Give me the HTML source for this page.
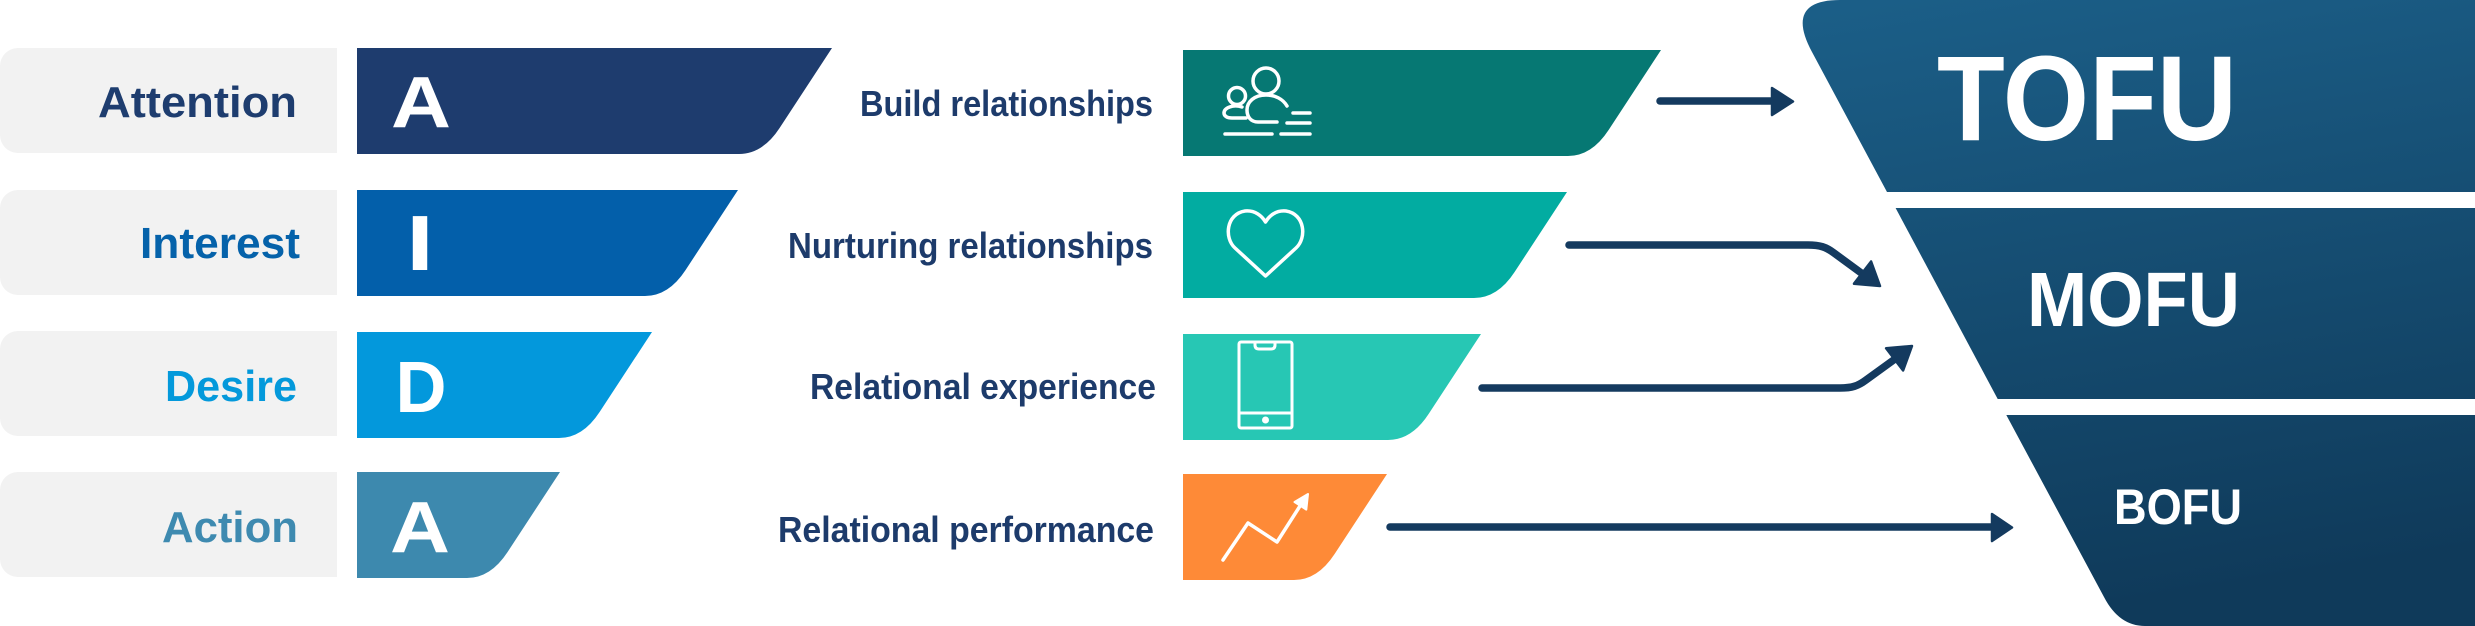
<!DOCTYPE html>
<html>
<head>
<meta charset="utf-8">
<style>
  html, body { margin:0; padding:0; background:#ffffff; }
  body { width:2475px; height:626px; overflow:hidden; }
  svg { display:block; }
  text { font-family: "Liberation Sans", "DejaVu Sans", sans-serif; font-weight:bold; }
</style>
</head>
<body>
<svg width="2475" height="626" viewBox="0 0 2475 626" xmlns="http://www.w3.org/2000/svg">
  <defs>
    <linearGradient id="fun" gradientUnits="userSpaceOnUse" x1="1900" y1="0" x2="2000" y2="626">
      <stop offset="0" stop-color="#1B5E87"/>
      <stop offset="1" stop-color="#0F3A5A"/>
    </linearGradient>
  </defs>

  <!-- Gray label boxes -->
  <g fill="#F2F2F2">
    <path d="M18 48 H337 V153 H18 A18 18 0 0 1 0 135 V66 A18 18 0 0 1 18 48 Z"/>
    <path d="M18 190 H337 V295 H18 A18 18 0 0 1 0 277 V208 A18 18 0 0 1 18 190 Z"/>
    <path d="M18 331 H337 V436 H18 A18 18 0 0 1 0 418 V349 A18 18 0 0 1 18 331 Z"/>
    <path d="M18 472 H337 V577 H18 A18 18 0 0 1 0 559 V490 A18 18 0 0 1 18 472 Z"/>
  </g>

  <!-- Left labels -->
  <text x="297" y="117" font-size="44" fill="#1E3D6F" text-anchor="end" textLength="199" lengthAdjust="spacingAndGlyphs">Attention</text>
  <text x="300" y="258" font-size="44" fill="#0562AA" text-anchor="end" textLength="160" lengthAdjust="spacingAndGlyphs">Interest</text>
  <text x="297" y="401" font-size="44" fill="#0499DB" text-anchor="end" textLength="132" lengthAdjust="spacingAndGlyphs">Desire</text>
  <text x="298" y="542" font-size="44" fill="#3E8AB0" text-anchor="end" textLength="136" lengthAdjust="spacingAndGlyphs">Action</text>

  <!-- Left AIDA bars -->
  <path d="M357 48 H832 L779.6 128 Q762.6 154 739 154 H357 Z" fill="#1E3C6E"/>
  <path d="M357 190 H738 L685.6 270 Q668.6 296 645 296 H357 Z" fill="#035FAA"/>
  <path d="M357 332 H652 L599.6 412 Q582.6 438 559 438 H357 Z" fill="#0398DC"/>
  <path d="M357 472 H560 L507.6 552 Q490.6 578 467 578 H357 Z" fill="#3D89AE"/>

  <!-- Bar letters -->
  <text x="421" y="127" font-size="72" fill="#ffffff" text-anchor="middle" textLength="60" lengthAdjust="spacingAndGlyphs">A</text>
  <text x="420" y="268" font-size="72" fill="#ffffff" text-anchor="middle" stroke="#ffffff" stroke-width="4">I</text>
  <text x="421" y="412" font-size="72" fill="#ffffff" text-anchor="middle" textLength="51" lengthAdjust="spacingAndGlyphs">D</text>
  <text x="420" y="552" font-size="72" fill="#ffffff" text-anchor="middle" textLength="60" lengthAdjust="spacingAndGlyphs">A</text>

  <!-- Middle labels -->
  <g fill="#1D3B6B" font-size="36" text-anchor="end">
    <text x="1153" y="116" textLength="293" lengthAdjust="spacingAndGlyphs">Build relationships</text>
    <text x="1153" y="258" textLength="365" lengthAdjust="spacingAndGlyphs">Nurturing relationships</text>
    <text x="1156" y="399" textLength="346" lengthAdjust="spacingAndGlyphs">Relational experience</text>
    <text x="1154" y="542" textLength="376" lengthAdjust="spacingAndGlyphs">Relational performance</text>
  </g>

  <!-- Middle bars -->
  <path d="M1183 50 H1661 L1608.6 130 Q1591.6 156 1568 156 H1183 Z" fill="#067873"/>
  <path d="M1183 192 H1567 L1514.6 272 Q1497.6 298 1474 298 H1183 Z" fill="#02ACA1"/>
  <path d="M1183 334 H1481 L1428.6 414 Q1411.6 440 1388 440 H1183 Z" fill="#27C7B4"/>
  <path d="M1183 474 H1387 L1334.6 554 Q1317.6 580 1294 580 H1183 Z" fill="#FE8A37"/>

  <!-- Icons -->
  <g fill="none" stroke="#ffffff" stroke-width="3.5" stroke-linecap="round" stroke-linejoin="round">
    <!-- people -->
    <circle cx="1266" cy="81" r="13"/>
    <path d="M1287 106 C1283 99 1275 95 1266 95 C1254 95 1247 102 1247 110 C1247 117 1251 122 1258 122 H1277"/>
    <circle cx="1237" cy="96" r="8.5"/>
    <path d="M1242 107 C1233 104 1224 108 1224 113 C1224 116 1227 118 1232 118 H1246"/>
    <path d="M1225 134 H1272 M1281 134 H1310 M1287 123 H1310 M1293 113 H1310"/>
    <!-- heart -->
    <path d="M1265.5 276 L1235 248 C1224 238 1226 214 1245 211 C1255 210 1262 216 1265.5 222 C1269 216 1276 210 1286 211 C1305 214 1307 238 1296 248 Z"/>
    <!-- phone -->
    <rect x="1239" y="342" width="53" height="86" rx="2" stroke-width="3"/>
    <path d="M1255 342 V345 Q1255 349 1259 349 H1271 Q1275 349 1275 345 V342" stroke-width="3"/>
    <path d="M1239 413 H1292" stroke-width="3"/>
    <!-- trend -->
    <polyline points="1223,560 1248,523 1277,542 1300,506"/>
  </g>
  <circle cx="1265.5" cy="420" r="3.5" fill="#ffffff"/>
  <polygon points="1308,494 1306.3,509.6 1294.5,502" fill="#ffffff" stroke="#ffffff" stroke-width="2" stroke-linejoin="round"/>

  <!-- Arrows -->
  <g stroke="#143A5F" stroke-width="7.5" stroke-linecap="round" fill="none" stroke-linejoin="round">
    <path d="M1660 101 H1776"/>
    <path d="M1569 245 L1808 245 C1820 245 1826 247 1834 253 L1864 275"/>
    <path d="M1482 388 L1840 388 C1852 388 1858 386 1866 380 L1895 359"/>
    <path d="M1390 527 H1995"/>
  </g>
  <g fill="#143A5F" stroke="#143A5F" stroke-width="2.5" stroke-linejoin="round">
    <polygon points="1772,88 1793,101.5 1772,115"/>
    <polygon points="1854,283.7 1871.1,261.5 1880,286"/>
    <polygon points="1903.1,370.5 1886.1,348.3 1912,346"/>
    <polygon points="1992,514 2012,527.5 1992,541"/>
  </g>

  <!-- Funnel -->
  <path d="M1840 0 H2475 V192 H1887 L1812 52 Q1784 0 1840 0 Z" fill="url(#fun)"/>
  <path d="M1895.6 208 H2475 V399 H1997.7 Z" fill="url(#fun)"/>
  <path d="M2006.3 415 H2475 V626 H2145 Q2119 626 2104 597 Z" fill="url(#fun)"/>

  <text x="2237" y="140" font-size="121" fill="#ffffff" text-anchor="end" textLength="300" lengthAdjust="spacingAndGlyphs">TOFU</text>
  <text x="2240" y="326" font-size="77" fill="#ffffff" text-anchor="end" textLength="213" lengthAdjust="spacingAndGlyphs">MOFU</text>
  <text x="2242" y="524" font-size="50" fill="#ffffff" text-anchor="end" textLength="128" lengthAdjust="spacingAndGlyphs">BOFU</text>
</svg>
</body>
</html>
